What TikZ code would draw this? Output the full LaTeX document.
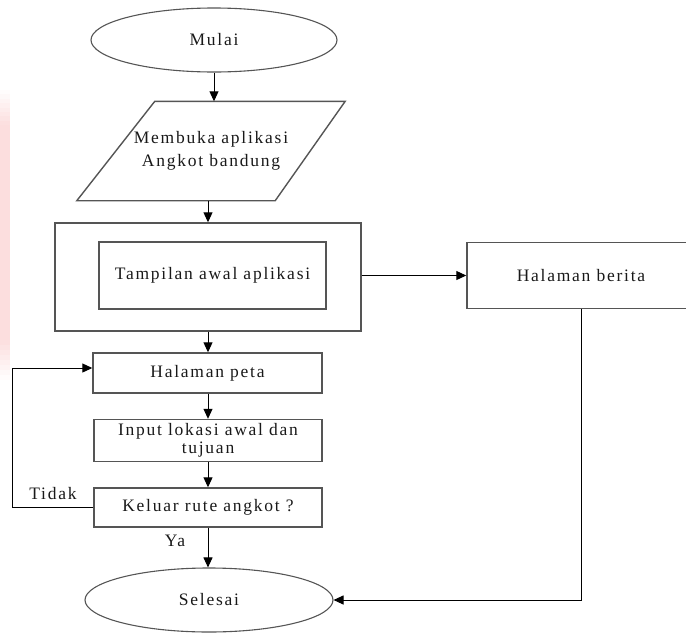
\documentclass[tikz,border=0pt]{standalone}
\usepackage{fontspec}
\setmainfont{Liberation Serif}[LetterSpace=10]
\usetikzlibrary{shapes.geometric,arrows.meta}
\definecolor{boxgray}{RGB}{85,85,85}
\definecolor{pinkedge}{RGB}{252,222,222}
\begin{document}
\begin{tikzpicture}[x=1pt,y=-1pt,
  lbl/.style={font=\fontsize{17.5}{17}\selectfont, text=black!90, inner sep=0pt},
  box/.style={draw=boxgray, line width=1.4pt, rectangle, lbl, align=center},
  term/.style={draw=boxgray, line width=1.1pt, ellipse, lbl},
  arr/.style={draw=black, line width=1pt, -{Triangle[length=10pt,width=9pt]}},
  ln/.style={draw=boxgray, line width=1.4pt}]
\useasboundingbox (0,0) rectangle (686,635);
\clip (0,0) rectangle (686,635);
% faint pink strip at the left edge
\fill[pinkedge] (0,125) rectangle (10,340);
\foreach \i in {0,...,7}{
  \fill[pinkedge!\the\numexpr \i*12+10\relax] (0,{90+\i*4.4}) rectangle (10,{94.4+\i*4.4});
  \fill[pinkedge!\the\numexpr 94-\i*12\relax] (0,{340+\i*5}) rectangle (10,{345+\i*5});
}
% nodes
\node[term, minimum width=246pt, minimum height=64pt] (start) at (214,40) {Mulai};
\node[lbl, align=center, font=\fontsize{17.5}{23}\selectfont, minimum width=268pt, minimum height=99pt] (para) at (211,151) {Membuka aplikasi\\Angkot bandung};
\draw[ln] (para.south west) -- ([xshift=78pt]para.north west) -- (para.north east) -- ([xshift=-70pt]para.south east) -- cycle;
\node[box, minimum width=306pt, minimum height=108pt] (outer) at (208,277) {};
\node[box, minimum width=227pt, minimum height=67pt] (inner) at (212.5,275.5) {Tampilan awal aplikasi};
\node[box, minimum width=228pt, minimum height=66pt] (berita) at (581,275.5) {Halaman berita};
\node[box, minimum width=229pt, minimum height=40pt] (peta) at (207.5,373) {Halaman peta};
\node[box, minimum width=228pt, minimum height=42pt, font=\fontsize{17.5}{17.5}\selectfont] (input) at (208,440.5) {Input lokasi awal dan\\tujuan};
\node[box, minimum width=228pt, minimum height=39pt] (keluar) at (208,507.5) {Keluar rute angkot ?};
\node[term, minimum width=248pt, minimum height=64pt] (end) at (209,600) {Selesai};
\node[lbl] (tidak) at (53,494) {Tidak};
\node[lbl] (ya) at (175,541) {Ya};
\coordinate (lp) at (12,0);
% connectors
\draw[arr] (start.south) -- (start.south |- para.north);
\draw[arr] (outer.north |- para.south) -- (outer.north);
\draw[arr] (outer.east |- berita.west) -- (berita.west);
\draw[arr] (outer.south) -- (outer.south |- peta.north);
\draw[arr] (input.north |- peta.south) -- (input.north);
\draw[arr] (input.south) -- (keluar.north);
\draw[arr] (keluar.south) -- (keluar.south |- end.north);
\draw[arr] (keluar.west) -- (keluar.west -| lp) -- ([yshift=5pt]peta.west -| lp) -- ([yshift=5pt]peta.west);
\draw[arr] (berita.south) -- (berita.south |- end.east) -- (end.east);
\end{tikzpicture}
\end{document}
